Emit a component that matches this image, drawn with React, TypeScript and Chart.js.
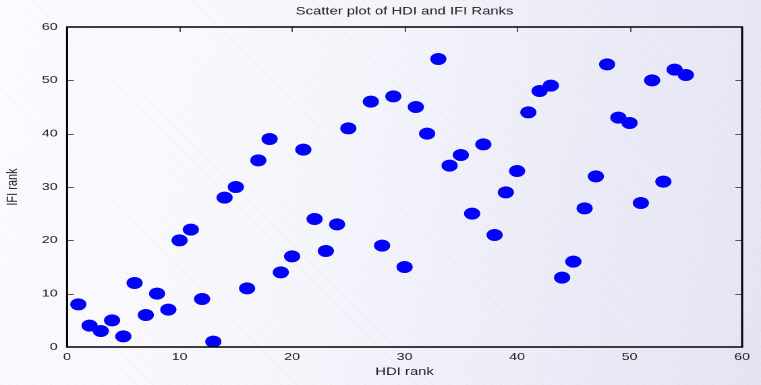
import React, { useEffect, useRef } from "react";
import { Chart, registerables } from "chart.js";

Chart.register(...registerables);

const TITLE = "Scatter plot of HDI and IFI Ranks";
const X_TITLE = "HDI rank";
const Y_TITLE = "IFI rank";

const hdiRank: number[] = [
  1, 2, 3, 4, 5, 6, 7, 8, 9, 10, 11, 12, 13, 14, 15, 16, 17, 18, 19, 20, 21, 22, 23, 24, 25,
  27, 28, 29, 30, 31, 32, 33, 34, 35, 36, 37, 38, 39, 40, 41, 42, 43, 44, 45, 46, 47, 48, 49,
  50, 51, 52, 53, 54, 55,
];
const ifiRank: number[] = [
  8, 4, 3, 5, 2, 12, 6, 10, 7, 20, 22, 9, 1, 28, 30, 11, 35, 39, 14, 17, 37, 24, 18, 23, 41,
  46, 19, 47, 15, 45, 40, 54, 34, 36, 25, 38, 21, 29, 33, 44, 48, 49, 13, 16, 26, 32, 53, 43,
  42, 27, 50, 31, 52, 51,
];

const AXIS_MIN = 0;
const AXIS_MAX = 60;
const AXIS_STEP = 10;

const STRETCH = 761 / 564;
const FONT = "'Liberation Sans', Arial, Helvetica, sans-serif";

const framePlugin = {
  id: "gnuFrame",
  afterDraw(chart: any) {
    const { ctx, chartArea } = chart;
    const { left, right, top, bottom } = chartArea;
    const xs = chart.scales.x;
    const ys = chart.scales.y;
    ctx.save();
    // ticks (inward)
    ctx.strokeStyle = "#555";
    ctx.lineWidth = 1;
    ctx.beginPath();
    xs.ticks.forEach((t: any) => {
      if (t.value <= AXIS_MIN || t.value >= AXIS_MAX) return;
      const px = Math.round(xs.getPixelForValue(t.value)) + 0.5;
      ctx.moveTo(px, top);
      ctx.lineTo(px, top + 5);
    });
    ys.ticks.forEach((t: any) => {
      if (t.value <= AXIS_MIN || t.value >= AXIS_MAX) return;
      const py = Math.round(ys.getPixelForValue(t.value)) + 0.5;
      ctx.moveTo(left, py);
      ctx.lineTo(left + 5, py);
      ctx.moveTo(right, py);
      ctx.lineTo(right - 5, py);
    });
    ctx.stroke();
    // frame
    ctx.strokeStyle = "#000";
    ctx.lineWidth = 1.5;
    ctx.strokeRect(left, top, right - left, bottom - top);
    // texts
    ctx.fillStyle = "#222";
    ctx.textAlign = "center";
    ctx.textBaseline = "middle";
    ctx.font = `11px ${FONT}`;
    const cx = (left + right) / 2;
    ctx.fillText(TITLE, cx, 11.5);
    ctx.fillText(X_TITLE, cx, 372);
    ctx.translate(9.5, (top + bottom) / 2);
    ctx.rotate(-Math.PI / 2);
    ctx.fillText(Y_TITLE, 0, 0);
    ctx.restore();
  },
};

export default function App() {
  const ref = useRef<HTMLCanvasElement | null>(null);

  useEffect(() => {
    if (!ref.current) return;
    const points = hdiRank.map((x, i) => ({ x, y: ifiRank[i] }));
    const chart = new Chart(ref.current, {
      type: "scatter",
      data: {
        datasets: [
          {
            label: "HDI vs IFI",
            data: points,
            backgroundColor: "#0000ff",
            borderColor: "#0000ff",
            borderWidth: 0,
            pointRadius: 6,
            pointHoverRadius: 6,
          },
        ],
      },
      options: {
        animation: false,
        responsive: true,
        maintainAspectRatio: false,
        devicePixelRatio: 2,
        layout: { padding: { top: 27, right: 14, left: 0, bottom: 0 } },
        plugins: {
          legend: { display: false },
          title: { display: false },
          tooltip: { enabled: false },
        },
        scales: {
          x: {
            type: "linear",
            min: AXIS_MIN,
            max: AXIS_MAX,
            grid: { display: false, drawTicks: false },
            border: { display: false },
            ticks: {
              stepSize: AXIS_STEP,
              padding: 4,
              color: "#222",
              maxRotation: 0,
              font: { family: FONT, size: 10.5 },
            },
            afterFit(scale: any) {
              scale.height = 38;
            },
          },
          y: {
            type: "linear",
            min: AXIS_MIN,
            max: AXIS_MAX,
            grid: { display: false, drawTicks: false },
            border: { display: false },
            ticks: {
              stepSize: AXIS_STEP,
              padding: 7,
              color: "#222",
              font: { family: FONT, size: 10.5 },
            },
            afterFit(scale: any) {
              scale.width = 49.7;
            },
          },
        },
      },
      plugins: [framePlugin],
    });
    return () => chart.destroy();
  }, []);

  return (
    <div
      style={{
        position: "fixed",
        left: 0,
        top: 0,
        width: 761,
        height: 385,
        overflow: "hidden",
        background:
          "repeating-linear-gradient(45deg, rgba(120,120,160,0.035) 0px, rgba(120,120,160,0.035) 1px, rgba(0,0,0,0) 1px, rgba(0,0,0,0) 6px), linear-gradient(100deg, #fcfcff 0%, #f5f5fc 45%, #e4e4f4 100%)",
      }}
    >
      <div
        style={{
          position: "absolute",
          left: 0,
          top: 0,
          width: 564,
          height: 385,
          transform: `scaleX(${STRETCH})`,
          transformOrigin: "0 0",
        }}
      >
        <canvas ref={ref} />
      </div>
    </div>
  );
}
